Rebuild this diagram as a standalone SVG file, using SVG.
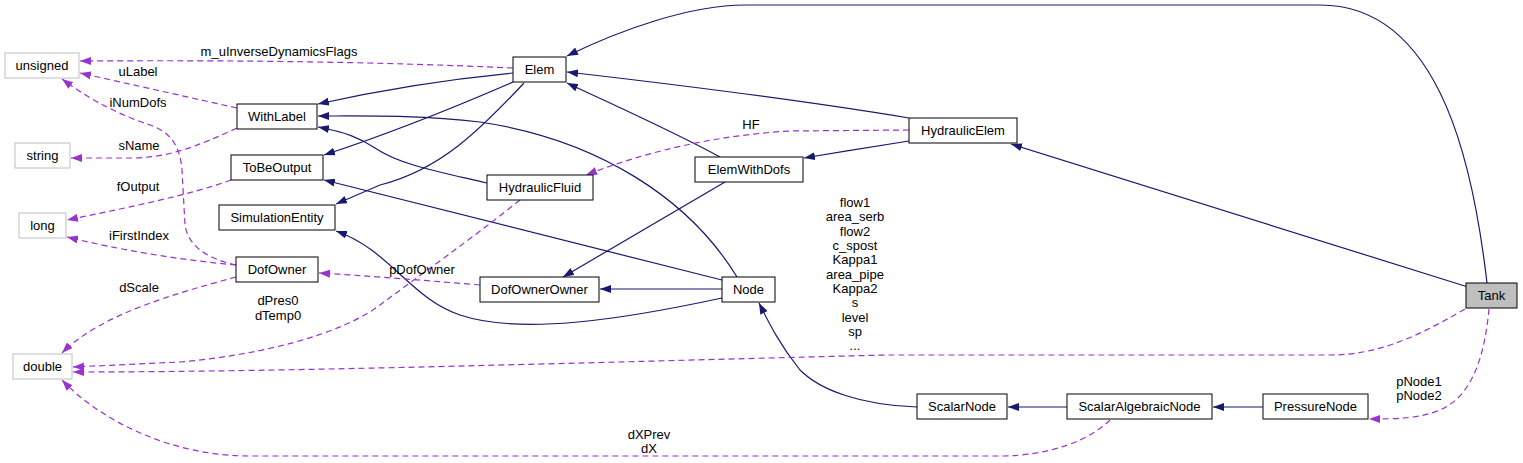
<svg xmlns="http://www.w3.org/2000/svg" width="1523" height="463" viewBox="0 0 1523 463">
<style>
text{font-family:"Liberation Sans",Arial,sans-serif;font-size:13px;fill:#000;text-anchor:middle}
.n rect{fill:#fff;stroke:#000;stroke-width:1}
.x rect{fill:#fff;stroke:#bfbfbf;stroke-width:1}
.t rect{fill:#bfbfbf;stroke:#000;stroke-width:1}
.e path{fill:none;stroke:#191970;stroke-width:1.2;marker-end:url(#ah)}
.d path{fill:none;stroke:#9a32cd;stroke-width:1.2;stroke-dasharray:6,4;marker-end:url(#ap)}
</style>
<defs>
<marker id="ah" markerUnits="userSpaceOnUse" viewBox="0 0 11 8" refX="11" refY="4" markerWidth="11" markerHeight="8" orient="auto"><path d="M0,0L11,4L0,8z" fill="#191970"/></marker>
<marker id="ap" markerUnits="userSpaceOnUse" viewBox="0 0 11 8" refX="11" refY="4" markerWidth="11" markerHeight="8" orient="auto"><path d="M0,0L11,4L0,8z" fill="#9a32cd"/></marker>
</defs>
<rect width="1523" height="463" fill="#fff"/>
<g id="connectors">
<g class="e">
<path d="M1487,283 C1475,180 1445,5 1320,5 L745,5 C690,5 620,30 567,56"/>
<path d="M909,118 C800,100 680,85 567,72"/>
<path d="M720,157 C670,130 620,108 567,83"/>
<path d="M909,141 C870,147 840,152 804,158"/>
<path d="M1468,287 L1011,144"/>
<path d="M513,73 C440,80 380,90 318,104"/>
<path d="M513,82 C460,105 400,130 324,155"/>
<path d="M524,83 C480,130 440,170 380,185 L336,204"/>
<path d="M737,277 C690,200 600,140 480,122 C420,115 370,116 318,116"/>
<path d="M487,183 C440,172 400,165 375,148 C360,138 345,132 318,127"/>
<path d="M722,280 L324,180"/>
<path d="M722,298 C620,320 520,335 460,315 C410,298 390,250 336,231"/>
<path d="M725,182 L563,277"/>
<path d="M722,289 L600,289"/>
<path d="M917,407 C860,405 820,390 800,370 C780,345 770,325 759,303"/>
<path d="M1067,407 L1008,407"/>
<path d="M1263,407 L1213,407"/>
</g>
<g class="d">
<path d="M513,68 C380,62 250,60 80,61"/>
<path d="M237,108 L80,73"/>
<path d="M236,265 C205,258 188,245 185,225 L182,170 C180,145 170,132 150,125 C120,115 90,100 62,79"/>
<path d="M237,128 C200,145 170,158 130,158 L71,158"/>
<path d="M231,180 C190,195 130,207 67,220"/>
<path d="M236,265 C180,260 120,250 67,237"/>
<path d="M236,277 C170,295 100,315 62,353"/>
<path d="M520,200 C470,240 420,275 380,305 C340,335 260,355 180,362 L73,367"/>
<path d="M480,285 C420,280 370,276 319,273"/>
<path d="M909,130 L790,131 C720,135 650,150 586,175"/>
<path d="M1465,309 C1420,335 1380,355 1330,355 L887,355 C600,362 300,372 73,372"/>
<path d="M1110,420 C1090,440 1050,456 1000,456 L250,456 C170,456 100,420 62,380"/>
<path d="M1489,309 C1485,350 1475,395 1440,410 C1420,418 1400,419 1369,419"/>
</g>
<g id="edge-labels">
<text x="279" y="56">m_uInverseDynamicsFlags</text>
<text x="138" y="76">uLabel</text>
<text x="138" y="107">iNumDofs</text>
<text x="139" y="150">sName</text>
<text x="138" y="191">fOutput</text>
<text x="139" y="240">iFirstIndex</text>
<text x="139" y="292">dScale</text>
<text x="278" y="305">dPres0</text>
<text x="278" y="320">dTemp0</text>
<text x="422" y="274">pDofOwner</text>
<text x="751" y="129">HF</text>
<text x="855" y="207">flow1</text>
<text x="855" y="221">area_serb</text>
<text x="855" y="236">flow2</text>
<text x="855" y="250">c_spost</text>
<text x="855" y="264">Kappa1</text>
<text x="855" y="279">area_pipe</text>
<text x="855" y="293">Kappa2</text>
<text x="855" y="307">s</text>
<text x="855" y="322">level</text>
<text x="855" y="336">sp</text>
<text x="855" y="350">...</text>
<text x="649" y="439">dXPrev</text>
<text x="649" y="453">dX</text>
<text x="1419" y="386">pNode1</text>
<text x="1419" y="400">pNode2</text>
</g>
</g>
<g id="unsigned" class="x"><rect x="5" y="53" width="74" height="25"/><text x="42" y="70">unsigned</text></g>
<g id="string" class="x"><rect x="15" y="143" width="55" height="25"/><text x="42.5" y="160">string</text></g>
<g id="long" class="x"><rect x="19" y="213" width="47" height="25"/><text x="42.5" y="230">long</text></g>
<g id="double" class="x"><rect x="13" y="354" width="59" height="25"/><text x="42.5" y="371">double</text></g>
<g id="WithLabel" class="n"><rect x="237" y="104" width="80" height="25"/><text x="277" y="121">WithLabel</text></g>
<g id="ToBeOutput" class="n"><rect x="231" y="155" width="92" height="25"/><text x="277" y="172">ToBeOutput</text></g>
<g id="SimulationEntity" class="n"><rect x="219" y="205" width="116" height="25"/><text x="277" y="222">SimulationEntity</text></g>
<g id="DofOwner" class="n"><rect x="236" y="257" width="82" height="25"/><text x="277" y="274">DofOwner</text></g>
<g id="Elem" class="n"><rect x="513" y="57" width="53" height="25"/><text x="539.5" y="74">Elem</text></g>
<g id="HydraulicFluid" class="n"><rect x="487" y="175" width="106" height="25"/><text x="540" y="192">HydraulicFluid</text></g>
<g id="ElemWithDofs" class="n"><rect x="695" y="157" width="108" height="25"/><text x="749" y="174">ElemWithDofs</text></g>
<g id="DofOwnerOwner" class="n"><rect x="480" y="277" width="119" height="25"/><text x="539.5" y="294">DofOwnerOwner</text></g>
<g id="Node" class="n"><rect x="722" y="277" width="53" height="25"/><text x="748.5" y="294">Node</text></g>
<g id="HydraulicElem" class="n"><rect x="909" y="118" width="108" height="25"/><text x="963" y="135">HydraulicElem</text></g>
<g id="Tank" class="t"><rect x="1466" y="283" width="51" height="25"/><text x="1491.5" y="300">Tank</text></g>
<g id="ScalarNode" class="n"><rect x="917" y="394" width="90" height="25"/><text x="962" y="411">ScalarNode</text></g>
<g id="ScalarAlgebraicNode" class="n"><rect x="1067" y="394" width="145" height="25"/><text x="1139.5" y="411">ScalarAlgebraicNode</text></g>
<g id="PressureNode" class="n"><rect x="1263" y="394" width="105" height="25"/><text x="1315.5" y="411">PressureNode</text></g>
</svg>
